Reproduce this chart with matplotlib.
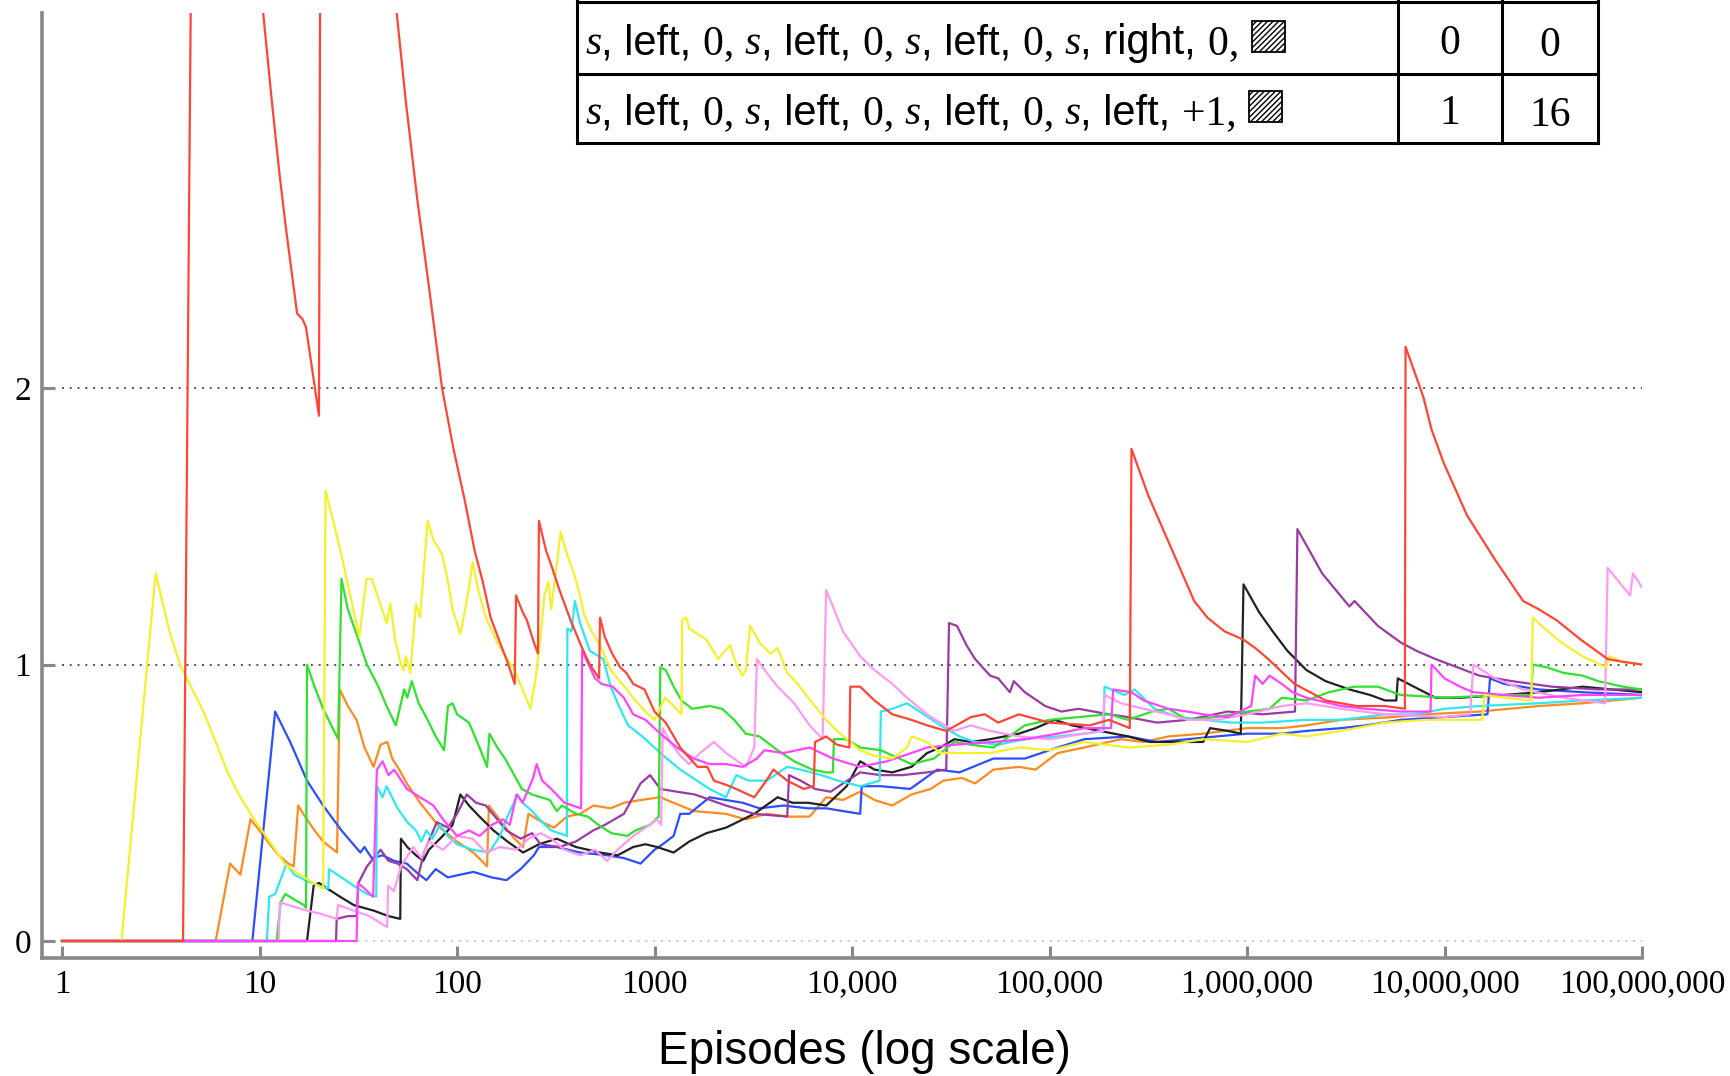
import matplotlib
matplotlib.use('Agg')
import matplotlib.pyplot as plt
from matplotlib.patches import Rectangle

# each series: (episodes, value) pairs
red = [(1, 0), (4.1, 0), (4.5, 3.5), (7, 4.5), (9.5, 3.6), (10.3, 3.40), (11.5, 3.05), (12.6, 2.78),
       (13.6, 2.58), (15.5, 2.27), (16.5, 2.25), (17.2, 2.22), (20, 1.90), (20.3, 3.6), (35, 4.2),
       (48, 3.45), (55, 3.04), (63, 2.68), (72, 2.37), (84, 2.0), (96, 1.78), (109, 1.6), (123, 1.41),
       (135, 1.30), (148, 1.17), (165, 1.08), (180, 1.01), (196, 0.93), (199, 1.25), (215, 1.19),
       (226, 1.16), (245, 1.08), (257, 1.04), (260, 1.52), (270, 1.47), (283, 1.41), (300, 1.36),
       (330, 1.27), (376, 1.16), (430, 1.06), (470, 1.0), (524, 0.95), (530, 1.17), (560, 1.10),
       (610, 1.04), (670, 0.99), (720, 0.97), (780, 0.93), (890, 0.91), (1000, 0.83), (1140, 0.79),
       (1350, 0.70), (1650, 0.63), (1850, 0.63), (2000, 0.58), (2410, 0.56), (3200, 0.52), (3600, 0.57),
       (4000, 0.62), (4700, 0.58), (5700, 0.55), (6400, 0.56), (6500, 0.72), (7400, 0.74), (8400, 0.71),
       (9700, 0.70), (9800, 0.92), (11000, 0.92), (13000, 0.87), (16000, 0.82), (20000, 0.80),
       (24000, 0.78), (30000, 0.76), (40000, 0.81), (47000, 0.82), (55000, 0.79), (70000, 0.82),
       (1e5, 0.79), (1.6e5, 0.78), (2e5, 0.80), (2.55e5, 0.77), (2.6e5, 1.78), (3.17e5, 1.61),
       (4.2e5, 1.41), (5.4e5, 1.23), (6.3e5, 1.17), (7.7e5, 1.12), (9.6e5, 1.09), (1.1e6, 1.06),
       (1.28e6, 1.02), (1.74e6, 0.93), (2.5e6, 0.87), (3.6e6, 0.85), (5e6, 0.85), (6.3e6, 0.84),
       (6.35e6, 2.15), (7.8e6, 1.97), (8.6e6, 1.85), (9.9e6, 1.73), (1.3e7, 1.54), (1.8e7, 1.38),
       (2.5e7, 1.23), (3.0e7, 1.20), (3.7e7, 1.16), (4.9e7, 1.09), (6.7e7, 1.02), (8e7, 1.01),
       (1e8, 1.0)]

yellow = [(1, 0), (2.0, 0), (2.98, 1.33), (3.5, 1.12), (3.96, 1.0), (4.5, 0.92), (5.2, 0.83),
          (6, 0.72), (6.9, 0.61), (8, 0.52), (9.6, 0.43), (11.5, 0.35), (13.4, 0.28), (16, 0.24),
          (19.7, 0.20), (21.0, 0.19), (21.6, 1.63), (23, 1.55), (24, 1.50), (26.3, 1.38), (29, 1.24),
          (32, 1.10), (34.8, 1.31), (37, 1.31), (40, 1.24), (44, 1.15), (46, 1.22), (48.6, 1.09),
          (52, 1.00), (53.5, 0.98), (55, 1.03), (58, 0.97), (62, 1.22), (65, 1.17), (71, 1.52),
          (76, 1.45), (84, 1.40), (90, 1.30), (95, 1.20), (104, 1.11), (110, 1.20), (115, 1.28),
          (120, 1.37), (128, 1.27), (140, 1.17), (160, 1.08), (180, 1.02), (195, 0.98), (215, 0.91),
          (235, 0.84), (250, 0.95), (265, 1.10), (277, 1.25), (290, 1.30), (300, 1.20), (335, 1.48),
          (360, 1.40), (395, 1.32), (420, 1.25), (440, 1.18), (480, 1.12), (530, 1.07), (600, 0.98),
          (705, 0.92), (800, 0.87), (930, 0.82), (1000, 0.80), (1130, 0.88), (1250, 0.85), (1370, 0.82),
          (1380, 1.16), (1450, 1.17), (1500, 1.13), (1830, 1.09), (2100, 1.02), (2410, 1.07),
          (2600, 1.00), (2790, 0.96), (2900, 0.98), (3050, 1.14), (3400, 1.08), (3860, 1.04),
          (4200, 1.06), (4700, 0.97), (5300, 0.93), (6000, 0.88), (7400, 0.80), (8400, 0.76),
          (11000, 0.69), (13000, 0.67), (16000, 0.66), (19000, 0.70), (20000, 0.74), (24000, 0.72),
          (28000, 0.68), (35000, 0.68), (50000, 0.68), (70000, 0.70), (1e5, 0.69), (1.5e5, 0.72),
          (2.5e5, 0.70), (4e5, 0.71), (6e5, 0.73), (1e6, 0.72), (1.5e6, 0.75), (2e6, 0.74), (3e6, 0.76),
          (5e6, 0.79), (8e6, 0.80), (1.55e7, 0.80), (1.6e7, 0.89), (2.0e7, 0.88), (2.75e7, 0.87),
          (2.8e7, 1.17), (3.1e7, 1.14), (3.9e7, 1.08), (5e7, 1.03), (6.6e7, 0.99), (6.8e7, 1.03),
          (8e7, 1.01), (1e8, 1.0)]

green = [(1, 0), (12.2, 0), (12.8, 0.14), (13.5, 0.17), (15, 0.15), (16.8, 0.13), (17.2, 0.12),
         (17.4, 1.0), (19, 0.92), (21, 0.84), (25, 0.73), (26, 1.31), (28, 1.20), (31, 1.11), (35, 1.00),
         (40, 0.92), (44, 0.85), (49, 0.78), (54, 0.91), (56, 0.88), (59, 0.94), (64, 0.86), (71, 0.80),
         (78, 0.74), (86, 0.69), (90, 0.85), (95, 0.86), (100, 0.82), (115, 0.79), (130, 0.70),
         (142, 0.63), (146, 0.75), (160, 0.70), (175, 0.66), (195, 0.60), (213, 0.55), (240, 0.53),
         (295, 0.51), (320, 0.47), (340, 0.49), (400, 0.46), (460, 0.45), (520, 0.42), (605, 0.39),
         (730, 0.38), (800, 0.40), (950, 0.42), (1050, 0.45), (1070, 0.99), (1140, 0.98), (1250, 0.92),
         (1370, 0.87), (1550, 0.84), (1900, 0.85), (2200, 0.84), (2530, 0.80), (2900, 0.75), (3400, 0.74),
         (4200, 0.69), (5100, 0.65), (6300, 0.62), (7400, 0.61), (8000, 0.61), (8100, 0.73), (9300, 0.73),
         (11000, 0.70), (14000, 0.69), (20000, 0.64), (26000, 0.66), (33000, 0.72), (40000, 0.71),
         (52000, 0.70), (75000, 0.78), (1e5, 0.80), (1.4e5, 0.81), (2e5, 0.82), (2.5e5, 0.80),
         (3.3e5, 0.83), (4e5, 0.84), (5e5, 0.80), (7e5, 0.81), (1e6, 0.83), (1.3e6, 0.84), (1.5e6, 0.88),
         (2e6, 0.87), (2.6e6, 0.90), (3.5e6, 0.92), (4.6e6, 0.92), (6e6, 0.89), (1e7, 0.88), (2e7, 0.89),
         (2.75e7, 0.89), (2.8e7, 1.0), (3.3e7, 0.99), (4e7, 0.97), (5e7, 0.96), (6e7, 0.94), (8e7, 0.92),
         (1e8, 0.91)]

cyan = [(1, 0), (10.9, 0), (11.2, 0.16), (12, 0.17), (13.7, 0.28), (15, 0.24), (17, 0.22), (20, 0.20),
        (22.3, 0.19), (22.5, 0.26), (26, 0.23), (30, 0.20), (35, 0.17), (39, 0.16), (39.3, 0.56),
        (42, 0.52), (44, 0.56), (50, 0.48), (56, 0.43), (62, 0.40), (66, 0.36), (70, 0.40), (75, 0.37),
        (82, 0.42), (90, 0.38), (100, 0.35), (120, 0.33), (145, 0.32), (165, 0.38), (180, 0.45),
        (203, 0.53), (215, 0.50), (240, 0.47), (270, 0.43), (300, 0.40), (330, 0.39), (360, 0.38),
        (362, 1.13), (380, 1.12), (395, 1.23), (420, 1.15), (470, 1.05), (550, 1.02), (600, 0.92),
        (660, 0.85), (735, 0.78), (800, 0.76), (900, 0.73), (1070, 0.68), (1350, 0.62), (1900, 0.55),
        (2300, 0.52), (2600, 0.60), (3000, 0.58), (3700, 0.58), (4700, 0.63), (5500, 0.62), (7000, 0.60),
        (8500, 0.58), (11000, 0.56), (13800, 0.58), (14000, 0.83), (16000, 0.84), (19000, 0.86),
        (22000, 0.83), (28000, 0.78), (35000, 0.74), (42000, 0.72), (55000, 0.71), (75000, 0.73),
        (1.1e5, 0.74), (1.5e5, 0.75), (1.88e5, 0.76), (1.9e5, 0.92), (2.4e5, 0.89), (2.7e5, 0.91),
        (3.4e5, 0.84), (4.5e5, 0.81), (6e5, 0.80), (8.3e5, 0.79), (1.2e6, 0.79), (2e6, 0.80),
        (3e6, 0.80), (5e6, 0.82), (7e6, 0.82), (1e7, 0.84), (1.5e7, 0.85), (3e7, 0.86), (5e7, 0.87),
        (1e8, 0.88)]

blue = [(1, 0), (9.2, 0), (12, 0.83), (14.3, 0.72), (17.4, 0.58), (21, 0.49), (26, 0.40), (32.4, 0.32),
        (34, 0.34), (37, 0.30), (42, 0.31), (48, 0.29), (55.7, 0.28), (62, 0.25), (70, 0.22),
        (78, 0.26), (90, 0.23), (104, 0.24), (121, 0.25), (150, 0.23), (178, 0.22), (210, 0.26),
        (245, 0.31), (260, 0.34), (320, 0.34), (420, 0.32), (575, 0.31), (700, 0.30), (850, 0.28),
        (1000, 0.33), (1100, 0.35), (1250, 0.38), (1350, 0.46), (1500, 0.46), (1900, 0.52), (2300, 0.51),
        (2800, 0.50), (3400, 0.48), (4500, 0.49), (6000, 0.48), (7400, 0.48), (9000, 0.47),
        (11000, 0.46), (11200, 0.56), (14000, 0.56), (19700, 0.55), (27000, 0.62), (35000, 0.61),
        (52000, 0.66), (75000, 0.66), (1.1e5, 0.70), (1.5e5, 0.73), (2.5e5, 0.74), (3.5e5, 0.72),
        (5e5, 0.73), (7e5, 0.74), (1e6, 0.75), (1.5e6, 0.75), (2e6, 0.76), (3e6, 0.77), (4e6, 0.78),
        (6e6, 0.80), (1e7, 0.81), (1.65e7, 0.82), (1.7e7, 0.95), (2e7, 0.93), (3e7, 0.91), (5e7, 0.90),
        (1e8, 0.89)]

orange = [(1, 0), (6.0, 0), (7.1, 0.28), (8, 0.24), (9, 0.44), (10, 0.40), (11, 0.36), (12.5, 0.31),
          (14, 0.28), (14.9, 0.27), (15.7, 0.49), (17, 0.45), (19, 0.40), (21, 0.36), (24.7, 0.32),
          (25.5, 0.91), (28, 0.85), (31, 0.80), (34, 0.70), (37.8, 0.63), (41, 0.71), (44.4, 0.72),
          (47, 0.66), (51, 0.62), (55.7, 0.57), (65, 0.50), (82, 0.41), (100, 0.36), (121, 0.32),
          (142, 0.27), (145, 0.49), (160, 0.45), (190, 0.38), (216, 0.34), (230, 0.46), (270, 0.43),
          (310, 0.41), (360, 0.45), (420, 0.46), (490, 0.49), (600, 0.48), (700, 0.50), (850, 0.51),
          (1070, 0.52), (1250, 0.50), (1580, 0.47), (2300, 0.46), (2900, 0.44), (3700, 0.46),
          (4800, 0.45), (6100, 0.45), (7400, 0.52), (9000, 0.51), (11000, 0.54), (13000, 0.51),
          (16000, 0.49), (20000, 0.53), (25000, 0.55), (29000, 0.58), (36000, 0.59), (42000, 0.57),
          (52000, 0.62), (70000, 0.63), (85000, 0.62), (1.1e5, 0.68), (1.5e5, 0.70), (2.3e5, 0.73),
          (3e5, 0.72), (4e5, 0.74), (6e5, 0.75), (1e6, 0.77), (1.5e6, 0.77), (2e6, 0.78), (3e6, 0.80),
          (5.5e6, 0.81), (8e6, 0.82), (1.5e7, 0.83), (3e7, 0.85), (5e7, 0.86), (1e8, 0.88)]

black = [(1, 0), (17.4, 0), (18.8, 0.20), (20, 0.21), (22, 0.19), (25.6, 0.16), (30, 0.13),
         (37.8, 0.11), (45, 0.09), (51.6, 0.08), (52, 0.37), (56, 0.34), (62, 0.31), (67.5, 0.29),
         (72, 0.33), (82, 0.37), (90, 0.40), (95, 0.42), (104, 0.53), (115, 0.49), (130, 0.45),
         (153, 0.40), (180, 0.36), (216, 0.32), (260, 0.35), (320, 0.37), (400, 0.34), (530, 0.32),
         (650, 0.31), (780, 0.34), (900, 0.35), (1030, 0.34), (1250, 0.32), (1500, 0.36), (1830, 0.39),
         (2300, 0.41), (3200, 0.46), (4200, 0.52), (5000, 0.50), (6000, 0.50), (7400, 0.49),
         (9400, 0.56), (11000, 0.65), (13000, 0.62), (16000, 0.61), (20000, 0.63), (24000, 0.68),
         (28000, 0.70), (33000, 0.73), (40000, 0.72), (50000, 0.73), (70000, 0.75), (85000, 0.77),
         (1.06e5, 0.80), (1.3e5, 0.78), (1.8e5, 0.76), (2.5e5, 0.74), (3.2e5, 0.72), (4.5e5, 0.72),
         (6e5, 0.72), (6.5e5, 0.77), (8e5, 0.76), (9.3e5, 0.75), (9.6e5, 1.29), (1.15e6, 1.19),
         (1.35e6, 1.12), (1.6e6, 1.05), (2e6, 0.98), (2.5e6, 0.94), (3.3e6, 0.91), (4.2e6, 0.89),
         (5e6, 0.87), (5.7e6, 0.87), (5.8e6, 0.95), (7e6, 0.92), (9e6, 0.88), (1.2e7, 0.88),
         (2e7, 0.89), (3e7, 0.90), (5e7, 0.92), (7e7, 0.91), (1e8, 0.90)]

purple = [(1, 0), (24.4, 0), (24.6, 0.08), (28, 0.09), (31, 0.09), (31.7, 0.21), (35, 0.27),
          (41, 0.33), (45, 0.29), (50, 0.28), (55.7, 0.26), (63, 0.22), (68, 0.32), (79, 0.43),
          (90, 0.41), (100, 0.46), (112, 0.53), (125, 0.50), (140, 0.49), (178, 0.40), (210, 0.37),
          (240, 0.39), (265, 0.35), (330, 0.34), (400, 0.36), (490, 0.40), (560, 0.42), (700, 0.46),
          (850, 0.57), (950, 0.60), (1070, 0.55), (1300, 0.54), (1600, 0.53), (2300, 0.49),
          (3200, 0.46), (4700, 0.45), (4800, 0.60), (5500, 0.58), (6500, 0.55), (7800, 0.54),
          (9000, 0.57), (11000, 0.61), (14000, 0.60), (18000, 0.60), (24000, 0.61), (30000, 0.62),
          (31000, 1.15), (34000, 1.14), (38000, 1.07), (42000, 1.02), (50000, 0.96), (55000, 0.95),
          (63000, 0.90), (66000, 0.94), (75000, 0.90), (95000, 0.85), (1.15e5, 0.83), (1.4e5, 0.84),
          (2e5, 0.82), (2.5e5, 0.81), (3.5e5, 0.79), (5e5, 0.80), (8e5, 0.83), (1.2e6, 0.82),
          (1.75e6, 0.83), (1.8e6, 1.49), (2.4e6, 1.33), (3.3e6, 1.21), (3.5e6, 1.23), (4.6e6, 1.14),
          (6e6, 1.08), (7.2e6, 1.05), (9e6, 1.02), (1.5e7, 0.96), (2.2e7, 0.94), (3.5e7, 0.92),
          (6e7, 0.91), (1e8, 0.91)]

magenta = [(1, 0), (31, 0), (31.5, 0.21), (34, 0.19), (37.6, 0.16), (39.3, 0.62), (42, 0.65),
           (45, 0.60), (48, 0.62), (55.8, 0.55), (65, 0.52), (76, 0.49), (85, 0.44), (100, 0.38),
           (115, 0.40), (130, 0.38), (150, 0.42), (171, 0.44), (185, 0.42), (200, 0.53), (215, 0.50),
           (243, 0.59), (253, 0.64), (270, 0.58), (300, 0.55), (350, 0.50), (425, 0.48), (430, 1.05),
           (450, 1.02), (500, 0.95), (540, 0.93), (615, 0.92), (700, 0.88), (780, 0.82), (900, 0.80),
           (1070, 0.75), (1300, 0.70), (1580, 0.66), (1900, 0.64), (2300, 0.64), (2800, 0.63),
           (3300, 0.66), (3600, 0.69), (4500, 0.68), (6100, 0.70), (8000, 0.66), (11000, 0.63),
           (15000, 0.65), (20000, 0.68), (24000, 0.70), (33000, 0.71), (52000, 0.72), (75000, 0.73),
           (1.1e5, 0.75), (1.5e5, 0.77), (2.05e5, 0.77), (2.1e5, 0.91), (2.6e5, 0.90), (3e5, 0.87),
           (4e5, 0.84), (5e5, 0.83), (6e5, 0.82), (8e5, 0.81), (1.05e6, 0.85), (1.1e6, 0.96),
           (1.2e6, 0.93), (1.3e6, 0.96), (1.5e6, 0.93), (1.7e6, 0.90), (2e6, 0.88), (3e6, 0.85),
           (4e6, 0.84), (6e6, 0.83), (8.5e6, 0.83), (8.6e6, 1.0), (1e7, 0.95), (1.2e7, 0.92),
           (1.4e7, 0.90), (2e7, 0.89), (3e7, 0.88), (5e7, 0.89), (1e8, 0.89)]

pink = [(1, 0), (12.5, 0), (12.7, 0.14), (14, 0.13), (17.4, 0.11), (20, 0.10), (24.6, 0.08),
        (25, 0.13), (30, 0.11), (36, 0.09), (44.3, 0.05), (44.8, 0.20), (48, 0.18), (52, 0.27),
        (60, 0.34), (66, 0.30), (72, 0.36), (85, 0.33), (100, 0.38), (120, 0.37), (140, 0.32),
        (165, 0.34), (200, 0.33), (230, 0.37), (265, 0.39), (300, 0.37), (350, 0.33), (420, 0.31),
        (500, 0.33), (575, 0.29), (650, 0.33), (780, 0.38), (900, 0.41), (1030, 0.44), (1080, 0.42),
        (1100, 0.77), (1200, 0.72), (1350, 0.67), (1500, 0.64), (1700, 0.68), (2000, 0.72),
        (2300, 0.68), (2900, 0.63), (3200, 0.70), (3300, 1.02), (3700, 0.97), (4200, 0.92),
        (5100, 0.86), (6100, 0.78), (7100, 0.73), (7400, 1.27), (9000, 1.12), (11000, 1.03),
        (13000, 0.98), (16000, 0.93), (19000, 0.88), (24000, 0.82), (28000, 0.79), (33000, 0.76),
        (40000, 0.78), (50000, 0.76), (70000, 0.74), (1e5, 0.73), (1.5e5, 0.75), (1.85e5, 0.76),
        (1.9e5, 0.89), (2.3e5, 0.86), (3e5, 0.84), (4e5, 0.82), (5e5, 0.80), (7e5, 0.80), (1e6, 0.82),
        (1.5e6, 0.85), (2e6, 0.86), (3e6, 0.84), (5e6, 0.82), (1e7, 0.81), (1.35e7, 0.82),
        (1.4e7, 1.0), (1.8e7, 0.95), (2.5e7, 0.91), (4e7, 0.88), (6.5e7, 0.86), (6.7e7, 1.35),
        (8.7e7, 1.25), (9e7, 1.33), (1e8, 1.28)]

series = [(orange, '#ff8a1f'), (blue, '#2d4dff'), (black, '#222222'), (purple, '#9a3aa5'),
          (cyan, '#2ee8f0'), (green, '#2ee22e'), (pink, '#ff9af2'), (magenta, '#ff45ff'),
          (yellow, '#f4f02a'), (red, '#ff4535')]

xticks = [1, 10, 100, 1000, 1e4, 1e5, 1e6, 1e7, 1e8]
xticklabels = ['1', '10', '100', '1000', '10,000', '100,000', '1,000,000', '10,000,000', '100,000,000']
yticks = [0, 1, 2]

# table rows: (text, kind) segments then two numbers
row1 = [('s', 'it'), (', left, ', 'sans'), ('0, ', 'serif'), ('s', 'it'), (', left, ', 'sans'),
        ('0, ', 'serif'), ('s', 'it'), (', left, ', 'sans'), ('0, ', 'serif'), ('s', 'it'),
        (', right, ', 'sans'), ('0, ', 'serif')]
row2 = [('s', 'it'), (', left, ', 'sans'), ('0, ', 'serif'), ('s', 'it'), (', left, ', 'sans'),
        ('0, ', 'serif'), ('s', 'it'), (', left, ', 'sans'), ('0, ', 'serif'), ('s', 'it'),
        (', left, ', 'sans'), ('+1, ', 'serif')]
row_nums = [('0', '0'), ('1', '16')]

W, H = 1730, 1076
fig = plt.figure(figsize=(W / 100, H / 100), dpi=100)
ax = fig.add_axes([42 / W, 1 - 958 / H, (1642 - 42) / W, (958 - 13) / H])

ax.hlines([1, 2], 1, 1e8, colors='#555555', linestyles=(0, (1, 3)), lw=1.4, zorder=1)
ax.hlines([0], 1, 1e8, colors='#c8c8c8', linestyles=(0, (1, 3)), lw=1.4, zorder=1)
for pts, col in series:
    xs = [p[0] for p in pts]
    ys = [p[1] for p in pts]
    ax.plot(xs, ys, color=col, lw=1.6, zorder=2)

ax.set_xscale('log')
ax.set_xlim(0.792, 1e8)
ax.set_ylim(-0.0615, 3.357)
ax.set_xticks(xticks)
ax.set_xticklabels(xticklabels)
ax.set_yticks(yticks)
ax.minorticks_off()
for s in ['top', 'right']:
    ax.spines[s].set_visible(False)
for s in ['left', 'bottom']:
    ax.spines[s].set_color('#888888')
    ax.spines[s].set_linewidth(2.6)
ax.tick_params(axis='both', direction='in', length=9, width=2.2, color='#888888',
               labelsize=24, pad=8)
for lab in ax.get_xticklabels() + ax.get_yticklabels():
    lab.set_family('Liberation Serif')

fig.text(864 / W, 1 - 1052 / H, 'Episodes (log scale)', ha='center', va='center',
         fontsize=33, family='Liberation Sans')

# table in pixel coordinates
tx = fig.add_axes([0, 0, 1, 1], zorder=5)
tx.set_xlim(0, W)
tx.set_ylim(H, 0)
tx.axis('off')
tx.add_patch(Rectangle((577, 0), 1598 - 577, 143, facecolor='white', edgecolor='none'))
for y in [2, 74, 143]:
    tx.plot([577, 1598], [y, y], color='black', lw=2.2, solid_capstyle='projecting')
for x in [577, 1398, 1502, 1598]:
    tx.plot([x, x], [0, 143], color='black', lw=2.2)

styles = {'it': dict(family='Liberation Serif', style='italic'),
          'serif': dict(family='Liberation Serif'),
          'sans': dict(family='Liberation Sans')}
plt.rcParams['hatch.linewidth'] = 1.0
rend = fig.canvas.get_renderer()
for segs, base, nums in [(row1, 54, row_nums[0]), (row2, 124, row_nums[1])]:
    x = 585
    for txt, kind in segs:
        t = tx.text(x, base, txt, fontsize=30, va='baseline', ha='left', **styles[kind])
        x = t.get_window_extent(rend).x1
    tx.add_patch(Rectangle((x + 2, base - 33), 33, 31, facecolor='white', edgecolor='black',
                           lw=1.3, hatch='//////'))
    tx.text(1450, base, nums[0], fontsize=30, va='baseline', ha='center', family='Liberation Serif')
    tx.text(1550, base + 2, nums[1], fontsize=30, va='baseline', ha='center', family='Liberation Serif')

fig.savefig('out.png', dpi=100)
